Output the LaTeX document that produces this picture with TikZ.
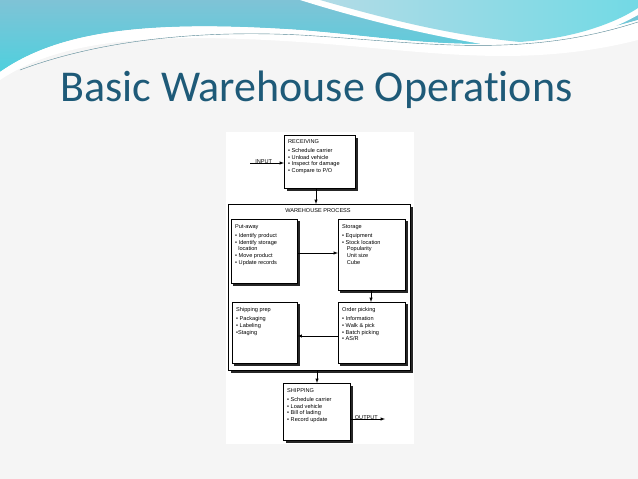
\documentclass[tikz,border=0pt]{standalone}
\usepackage{fontspec}
\setmainfont{Carlito}
\newfontfamily\diagfont{Liberation Sans}
\begin{document}
\begin{tikzpicture}[x=1pt,y=-1pt,
 bx/.style={draw,line width=0.6pt,fill=white},
 sh/.style={fill=black!85},
 tx/.style={font=\diagfont\fontsize{5.6}{6.6}\selectfont,align=left,anchor=north west,inner sep=0pt},
 arr/.style={-latex,line width=0.5pt}]
\definecolor{teal1}{HTML}{7FC3D6}
\definecolor{teal2}{HTML}{4FD0DE}
\definecolor{titlec}{HTML}{1E5A78}
\fill[white!96!black] (0,0) rectangle (638,479);
\useasboundingbox (0,0) rectangle (638,479);
% header
\shade[top color=teal1,bottom color=teal2] (0,0) -- (638,0) -- (638,20) .. controls (500,60) and (420,40) .. (300,30) .. controls (150,20) and (60,30) .. (0,72) -- cycle;
\fill[white] (300,0) .. controls (380,25) and (450,40) .. (520,50) .. controls (580,45) and (620,25) .. (638,15) -- (638,0) -- cycle;
\shade[left color=teal1!60!white,right color=teal2!80!white] (320,0) .. controls (390,20) and (450,35) .. (520,42) .. controls (580,38) and (620,20) .. (638,8) -- (638,0) -- cycle;
\fill[white] (0,72) .. controls (60,30) and (150,20) .. (300,30) .. controls (420,40) and (500,60) .. (638,20) -- (638,40) .. controls (520,70) and (420,50) .. (300,42) .. controls (150,32) and (60,40) .. (0,80) -- cycle;
\draw[teal1!70!black,line width=0.4pt] (20,70) .. controls (100,40) and (200,30) .. (300,35) .. controls (420,42) and (520,60) .. (638,22);
\node[anchor=west,text=titlec,font=\fontsize{44}{50}\selectfont,inner sep=0pt] (title) at (60,90) {Basic Warehouse Operat\kern0pt ions};
% diagram background
\fill[white] (226,132) rectangle (414,444);
% outer box
\fill[sh] (231,207) rectangle (413,373);
\node[bx,minimum width=182pt,minimum height=166pt,anchor=north west,inner sep=0pt] (wh) at (228,204) {};
\node[tx,anchor=north] (whl) at (318,208) {WAREHOUSE PROCESS};
% receiving
\fill[sh] (287,138) rectangle (358,191);
\node[bx,minimum width=71pt,minimum height=53pt,anchor=north west,inner sep=0pt] (rec) at (284,135) {};
\node[tx] (recl) at (288,139) {RECEIVING\\[3pt]\textbullet\ Schedule carrier\\\textbullet\ Unload vehicle\\\textbullet\ Inspect for damage\\\textbullet\ Compare to P/O};
% put-away
\fill[sh] (233,221) rectangle (300,286);
\node[bx,minimum width=66pt,minimum height=64pt,anchor=north west,inner sep=0pt] (pa) at (231,219) {};
\node[tx] (pal) at (235,224) {Put-away\\[3pt]\textbullet\ Identify product\\\textbullet\ Identify storage\\\ \ location\\\textbullet\ Move product\\\textbullet\ Update records};
% storage
\fill[sh] (340,221) rectangle (408,293);
\node[bx,minimum width=67pt,minimum height=71pt,anchor=north west,inner sep=0pt] (st) at (338,219) {};
\node[tx] (stl) at (342,224) {Storage\\[3pt]\textbullet\ Equipment\\\textbullet\ Stock location\\\ \ \ Popularity\\\ \ \ Unit size\\\ \ \ Cube};
% shipping prep
\fill[sh] (234,304) rectangle (300,366);
\node[bx,minimum width=65pt,minimum height=61pt,anchor=north west,inner sep=0pt] (sp) at (232,302) {};
\node[tx] (spl) at (236,307) {Shipping prep\\[3pt]\textbullet\ Packaging\\\textbullet\ Labeling\\\textbullet Staging};
% order picking
\fill[sh] (340,304) rectangle (408,366);
\node[bx,minimum width=67pt,minimum height=61pt,anchor=north west,inner sep=0pt] (op) at (338,302) {};
\node[tx] (opl) at (342,307) {Order picking\\[3pt]\textbullet\ Information\\\textbullet\ Walk \& pick\\\textbullet\ Batch picking\\\textbullet\ AS/R};
% shipping
\fill[sh] (286,386) rectangle (353,443);
\node[bx,minimum width=67pt,minimum height=57pt,anchor=north west,inner sep=0pt] (sh) at (283,383) {};
\node[tx] (shl) at (287,388) {SHIPPING\\[3pt]\textbullet\ Schedule carrier\\\textbullet\ Load vehicle\\\textbullet\ Bill of lading\\\textbullet\ Record update};
% connectors
\coordinate (inp) at (250,163);
\coordinate (outp) at (385,419);
\draw[arr] (inp) -- (rec.west|-inp) node[tx,anchor=south west,pos=0.15,yshift=-1pt] (inl) {INPUT};
\draw[arr] (rec.south-|316,0) -- (wh.north-|316,0);
\draw[arr] (pa.east|-0,253) -- (st.west|-0,253);
\draw[arr] (st.south-|371,0) -- (op.north-|371,0);
\draw[arr] (op.west|-0,336) -- (sp.east|-0,336);
\draw[arr] (wh.south-|317,0) -- (sh.north-|317,0);
\draw[arr] (sh.east|-outp) -- (outp) node[tx,anchor=south east,pos=0.8,yshift=-1pt] (outl) {OUTPUT};
\end{tikzpicture}
\end{document}
